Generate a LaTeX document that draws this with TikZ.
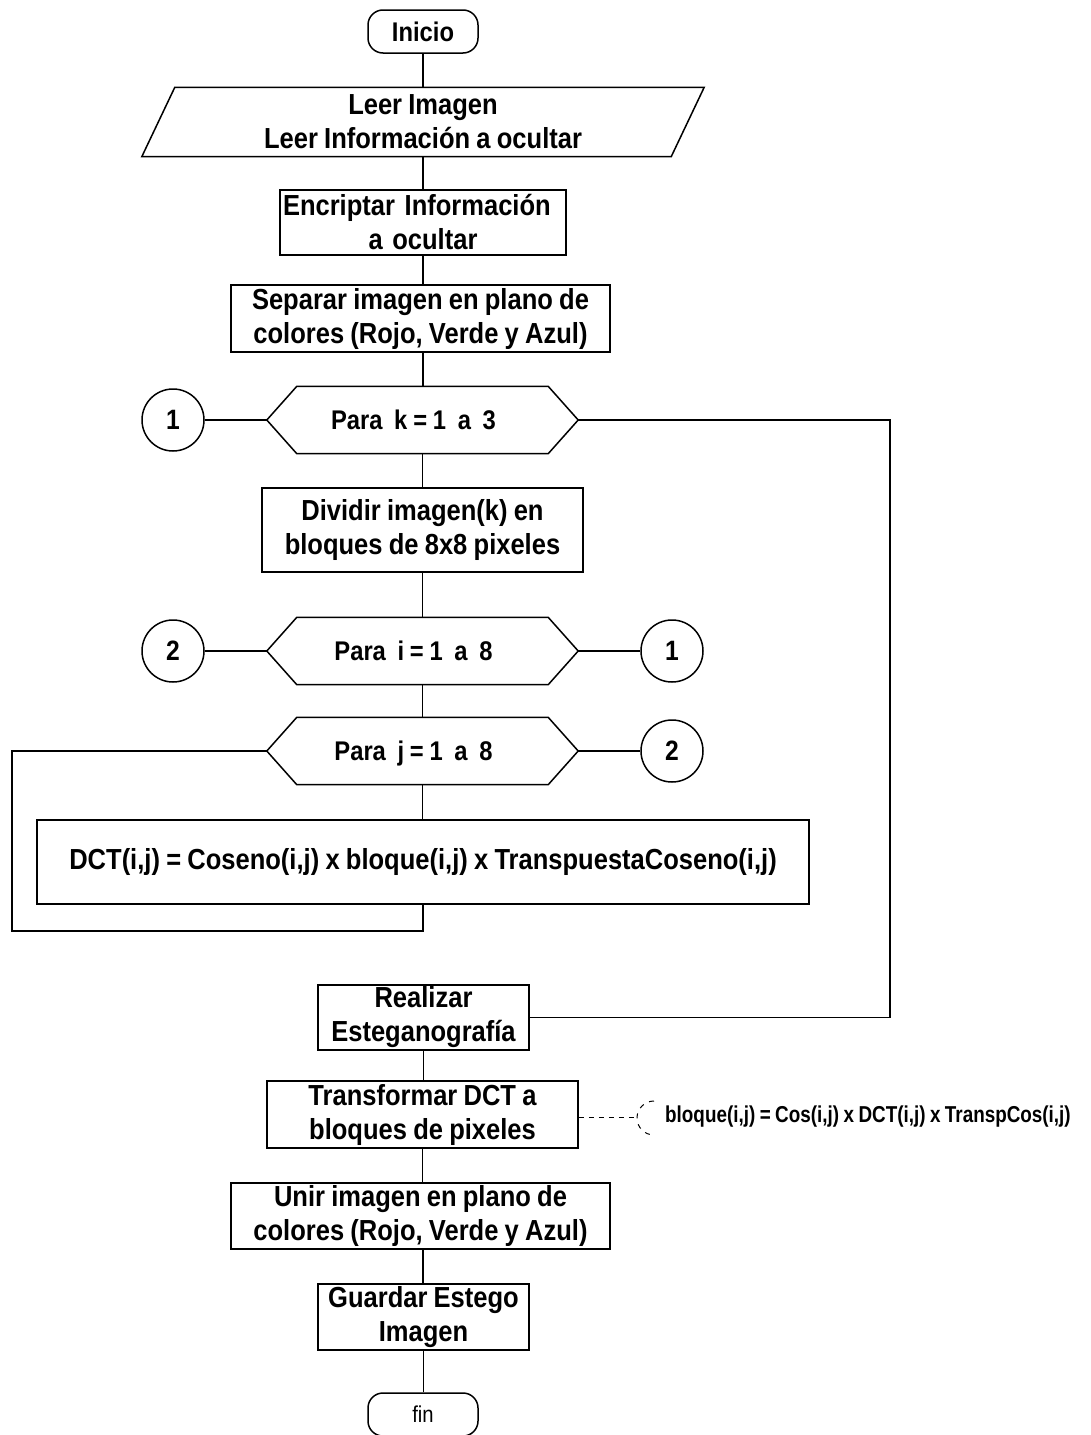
\documentclass[tikz,border=0pt]{standalone}
\usepackage{fontspec}
\setmainfont{Liberation Sans}
\newfontfamily\condfont[FakeStretch=0.88,WordSpace=0.88]{Liberation Sans}
\newfontfamily\annfont[FakeStretch=0.82,WordSpace=0.85]{Liberation Sans}
\begin{document}
\begin{tikzpicture}[x=1pt,y=-1pt,
  line/.style={line width=1.5pt,black},
  maintext/.style={font=\fontsize{29}{34}\condfont\bfseries},
  box/.style={draw,line width=1.5pt,inner sep=0pt,align=center,anchor=center,maintext},
  term/.style={draw,line width=1.5pt,inner sep=0pt,anchor=center,rounded corners=15pt,
    minimum width=110pt,minimum height=43pt},
  hexa/.style={inner sep=0pt,anchor=center,minimum width=311pt,minimum height=67pt,
    text height=19pt,text depth=0pt,font=\fontsize{27}{30}\condfont\bfseries},
  conn/.style={draw,circle,line width=1.5pt,inner sep=0pt,minimum size=62pt,
    text height=19pt,text depth=0pt,font=\fontsize{28}{30}\condfont\bfseries},
]
\useasboundingbox (0,0) rectangle (1091,1435);
\fill[white] (0,0) rectangle (1091,1435);

% nodes
\node[term,font=\fontsize{27}{30}\condfont\bfseries] (ini) at (423,31.5) {Inicio};
\node[inner sep=0pt,anchor=center,minimum width=529pt,minimum height=69pt,align=center,maintext] (leer) at (423,122) {Leer Imagen\\Leer Información a ocultar};
\node[box,minimum width=286pt,minimum height=65pt,text width=280pt,align=left] (enc) at (423,222.5) {Encriptar Información\\\makebox[\linewidth]{a ocultar}};
\node[box,minimum width=379pt,minimum height=67pt] (sep) at (420.5,318.5) {Separar imagen en plano de\\colores (Rojo, Verde y Azul)};
\node[hexa] (hk) at (422.5,420) {Para\ \ k = 1\ \ a\ \ 3\hspace*{18pt}};
\node[conn] (c1a) at (173,420) {1};
\node[box,minimum width=321pt,minimum height=84pt] (div) at (422.5,530) {Dividir imagen(k) en\\bloques de 8x8 pixeles};
\node[hexa] (hi) at (422.5,651) {Para\ \ i = 1\ \ a\ \ 8\hspace*{18pt}};
\node[conn] (c2a) at (173,651) {2};
\node[conn] (c1b) at (672,651) {1};
\node[hexa] (hj) at (422.5,751) {Para\ \ j = 1\ \ a\ \ 8\hspace*{18pt}};
\node[conn] (c2b) at (672,751) {2};
\node[box,minimum width=772pt,minimum height=84pt] (dct) at (423,862) {DCT(i,j) = Coseno(i,j) x bloque(i,j) x TranspuestaCoseno(i,j)};
\node[box,minimum width=211pt,minimum height=65pt] (rea) at (423.5,1017.5) {Realizar\\Esteganografía};
\node[box,minimum width=311pt,minimum height=67pt] (tra) at (422.5,1114.5) {Transformar DCT a\\bloques de pixeles};
\node[box,minimum width=379pt,minimum height=66pt] (uni) at (420.5,1216) {Unir imagen en plano de\\colores (Rojo, Verde y Azul)};
\node[box,minimum width=211pt,minimum height=66pt] (gua) at (423.5,1317) {Guardar Estego\\Imagen};
\node[term,font=\fontsize{23}{28}\condfont] (fin) at (423,1414.5) {fin};
\node[anchor=west,inner sep=0pt,font=\fontsize{23}{26}\annfont\bfseries] (ann) at (665,1117) {bloque(i,j) = Cos(i,j) x DCT(i,j) x TranspCos(i,j)};

% shapes drawn around invisible nodes
\draw[line] ([xshift=16.5pt]leer.north west) -- ([xshift=16.5pt]leer.north east)
  -- ([xshift=-16.5pt]leer.south east) -- ([xshift=-16.5pt]leer.south west) -- cycle;
\foreach \n in {hk,hi,hj}
  \draw[line] (\n.west) -- ([xshift=30pt]\n.north west) -- ([xshift=-30pt]\n.north east)
    -- (\n.east) -- ([xshift=-30pt]\n.south east) -- ([xshift=30pt]\n.south west) -- cycle;

% vertical flow
\draw[line] (ini.south) -- (ini.south |- leer.north);
\draw[line] (leer.south) -- (leer.south |- enc.north);
\draw[line] (enc.south) -- (enc.south |- sep.north);
\draw[line] (ini.south |- sep.south) -- (ini.south |- hk.north);
\draw[line] (hk.south) -- (hk.south |- div.north);
\draw[line] (div.south) -- (div.south |- hi.north);
\draw[line] (hi.south) -- (hi.south |- hj.north);
\draw[line] (hj.south) -- (hj.south |- dct.north);
\draw[line] (rea.south) -- (rea.south |- tra.north);
\draw[line] (tra.south) -- (tra.south |- uni.north);
\draw[line] (ini.south |- uni.south) -- (ini.south |- gua.north);
\draw[line] (gua.south) -- (gua.south |- fin.north);

% horizontal connectors to circles
\draw[line] (c1a.east) -- (hk.west);
\draw[line] (c2a.east) -- (hi.west);
\draw[line] (hi.east) -- (c1b.west);
\draw[line] (hj.east) -- (c2b.west);

% loops
\draw[line] (hk.east) -- (890,420) -- (890,1017.5) -- (rea.east);
\draw[line] (hj.west) -- (12,751) -- (12,931) -- (dct.south |- 0,931) -- (dct.south);

% annotation
\coordinate (br) at (637,1117);
\draw[line width=1pt,dash pattern=on 5pt off 5pt] (tra.east |- br) -- (br);
\draw[line width=1pt,dash pattern=on 5pt off 6pt] (654,1101) arc[start angle=-90,end angle=-270,radius=17];
\end{tikzpicture}
\end{document}
